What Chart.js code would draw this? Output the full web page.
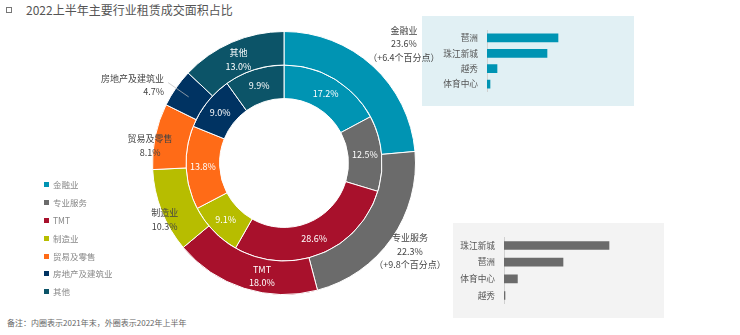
<!DOCTYPE html>
<html>
<head>
<meta charset="utf-8">
<script src="https://cdn.jsdelivr.net/npm/chart.js@4"></script>
<style>
  body { margin: 0; width: 740px; height: 335px; background: #fff; position: relative; overflow: hidden;
         font-family: "Noto Sans CJK SC", "Noto Sans", sans-serif; }
  #donut { position: absolute; left: 0; top: 0; z-index: 2; }
  .title { position: absolute; left: 26px; top: 1px; font-size: 12px; color: #555; }
  .title-icon { position: absolute; left: 6px; top: 7px; width: 4px; height: 4px; border: 1px solid #777; }
  .panel { position: absolute; z-index: 1; }
  .panel canvas { position: absolute; left: 0; top: 0; }
  #legend { position: absolute; left: 44px; top: 177px; font-size: 8.5px; color: #888; z-index: 3; }
  #legend div { height: 17.9px; line-height: 14px; white-space: nowrap; }
  #legend span { display: inline-block; width: 5px; height: 5px; margin-right: 4px; vertical-align: 1px; }
  .note { position: absolute; left: 7px; top: 317px; font-size: 8px; color: #666; }
</style>
</head>
<body>
<div class="title-icon"></div>
<div class="title">2022上半年主要行业租赁成交面积占比</div>
<canvas id="donut" width="740" height="335"></canvas>
<div class="panel" style="left:422px;top:16px;width:212px;height:90px;background:#e1f0f4;">
  <canvas id="finance" width="212" height="90"></canvas>
</div>
<div class="panel" style="left:453px;top:223px;width:211px;height:95px;background:#f3f3f3;">
  <canvas id="pro" width="211" height="95"></canvas>
</div>
<div id="legend"></div>
<div class="note">备注：内圈表示2021年末，外圈表示2022年上半年</div>
<script>
// 行业分类
const categories = ['金融业', '专业服务', 'TMT', '制造业', '贸易及零售', '房地产及建筑业', '其他'];
// 外圈：2022年上半年 (%)
const share2022H1 = [23.6, 22.3, 18.0, 10.3, 8.1, 4.7, 13.0];
// 内圈：2021年末 (%)
const share2021 = [17.2, 12.5, 28.6, 9.1, 13.8, 9.0, 9.9];
const changeNotes = ['（+6.4个百分点）', '（+9.8个百分点）', '', '', '', '', ''];

// 右侧小图：金融业 / 专业服务 分区域
const financeDistricts = ['琶洲', '珠江新城', '越秀', '体育中心'];
const financeValues = [35.5, 30, 5, 1.5];
const proDistricts = ['珠江新城', '琶洲', '体育中心', '越秀'];
const proValues = [52.5, 29.5, 6.7, 0.5];

const colors = ['#0094b3', '#6b6b6b', '#a8112c', '#b7bd00', '#ff6b17', '#003362', '#0c5468'];
const FONT = '"Noto Sans CJK SC", "Noto Sans", sans-serif';

// 外圈标签的位置 (半径, 角度偏移, 对齐, 颜色)
const outerLabelPos = [
  { r: 169, da: 2.7, align: 'center', color: '#444' },
  { r: 154, da: 0, align: 'center', color: '#444' },
  { r: 115, da: -6.6, align: 'center', color: '#fff' },
  { r: 132, da: -3.9, align: 'center', color: '#444' },
  { r: 135, da: -4.3, align: 'center', color: '#444' },
  { r: 143, da: -1.7, align: 'right', color: '#444', leader: true },
  { r: 113, da: -0.4, align: 'center', color: '#fff' }
];

const labelPlugin = {
  id: 'ringLabels',
  afterDatasetsDraw(chart) {
    const ctx = chart.ctx;
    ctx.save();
    ctx.font = '9px ' + FONT;
    ctx.textBaseline = 'middle';
    const lh = 13.5;

    // 外圈
    chart.getDatasetMeta(0).data.forEach((arc, i) => {
      const p = outerLabelPos[i];
      const mid = (arc.startAngle + arc.endAngle) / 2 + p.da * Math.PI / 180;
      const x = arc.x + Math.cos(mid) * p.r;
      const y = arc.y + Math.sin(mid) * p.r;
      if (p.leader) {
        const a = (arc.startAngle + arc.endAngle) / 2;
        ctx.strokeStyle = 'rgba(190,190,190,0.9)';
        ctx.lineWidth = 0.8;
        ctx.beginPath();
        ctx.moveTo(arc.x + Math.cos(a) * 141, arc.y + Math.sin(a) * 141);
        ctx.lineTo(arc.x + Math.cos(a) * 116, arc.y + Math.sin(a) * 116);
        ctx.stroke();
      }
      const lines = [categories[i], share2022H1[i].toFixed(1) + '%'];
      if (changeNotes[i]) lines.push(changeNotes[i]);
      ctx.fillStyle = p.color;
      ctx.textAlign = p.align;
      const y0 = y - (lines.length - 1) * lh / 2;
      lines.forEach((t, k) => ctx.fillText(t, x, y0 + k * lh));
    });

    // 内圈
    ctx.fillStyle = '#fff';
    ctx.textAlign = 'center';
    chart.getDatasetMeta(1).data.forEach((arc, i) => {
      const pt = arc.tooltipPosition();
      ctx.fillText(share2021[i].toFixed(1) + '%', pt.x, pt.y);
    });
    ctx.restore();
  }
};

new Chart(document.getElementById('donut'), {
  type: 'doughnut',
  data: {
    labels: categories,
    datasets: [
      { label: '2022年上半年', data: share2022H1, backgroundColor: colors, borderColor: '#fff', borderWidth: 1, hoverOffset: 0 },
      { label: '2021年末', data: share2021, backgroundColor: colors, borderColor: '#fff', borderWidth: 1, hoverOffset: 0 }
    ]
  },
  options: {
    responsive: false,
    animation: false,
    events: [],
    cutout: '49%',
    layout: { padding: { left: 152, right: 324, top: 31, bottom: 40 } },
    plugins: { legend: { display: false }, tooltip: { enabled: false } }
  },
  plugins: [labelPlugin]
});

// 图例
const legendEl = document.getElementById('legend');
categories.forEach((c, i) => {
  const row = document.createElement('div');
  row.innerHTML = '<span style="background:' + colors[i] + '"></span>' + c;
  legendEl.appendChild(row);
});

function barChart(id, labels, values, color, axisWidth, max, pad) {
  return new Chart(document.getElementById(id), {
    type: 'bar',
    data: { labels: labels, datasets: [{ data: values, backgroundColor: color, barThickness: 8 }] },
    options: {
      indexAxis: 'y',
      responsive: false,
      animation: false,
      events: [],
      layout: { padding: pad },
      plugins: { legend: { display: false }, tooltip: { enabled: false } },
      scales: {
        x: { display: false, min: 0, max: max },
        y: {
          afterFit(scale) { scale.width = axisWidth; },
          grid: { display: false, drawTicks: false },
          border: { color: '#d0d0d0', width: 1 },
          ticks: { color: '#555', padding: 9, font: { family: FONT, size: 8.7 } }
        }
      }
    }
  });
}

barChart('finance', financeDistricts, financeValues, '#0094b3', 65, 70, { top: 9, bottom: 6, right: 7 });
barChart('pro', proDistricts, proValues, '#6b6b6b', 51, 75, { top: 11, bottom: 8, right: 10 });
</script>
</body>
</html>
